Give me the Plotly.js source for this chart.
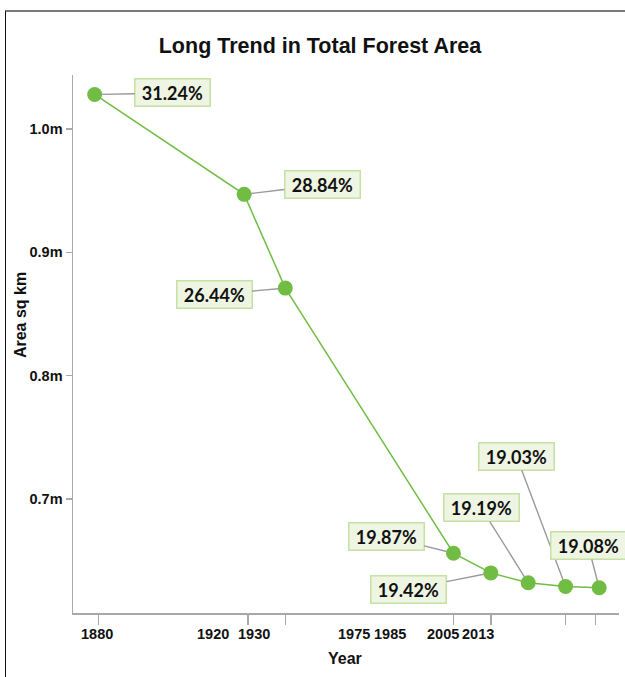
<!DOCTYPE html>
<html>
<head>
<meta charset="utf-8">
<script src="https://cdn.plot.ly/plotly-3.0.1.min.js"></script>
<style>
  html, body { margin: 0; padding: 0; background: #ffffff; }
  #chart { position: absolute; left: 0; top: 0; width: 625px; height: 677px; }
  #frame {
    position: absolute; left: 5px; top: 10px; width: 625px; height: 667px;
    border-top: 2px solid #7a7a7a; border-left: 1.5px solid #111;
    pointer-events: none; box-sizing: border-box;
  }
</style>
</head>
<body>
<div id="chart"></div>
<div id="frame"></div>
<script>
// Forest area by year (million sq km) and share of total land area (%)
const years = [1879, 1919, 1930, 1975, 1985, 1995, 2005, 2014];
const areaMillionSqKm = [1.028, 0.947, 0.871, 0.656, 0.640, 0.632, 0.629, 0.628];
const forestSharePct = [31.24, 28.84, 26.44, 19.87, 19.42, 19.19, 19.03, 19.08];

// Year axis: tick marks and the year labels printed under the axis
const tickYears = [1880, 1920, 1930, 1975, 1985, 2005, 2013];
const tickLabels = ['1880', '1920', '1930', '1975', '1985', '2005', '2013'];

// Area axis ticks
const areaTicks = [0.7, 0.8, 0.9, 1.0];
const areaTickLabels = ['0.7m', '0.8m', '0.9m', '1.0m'];

// Layout: where each year label sits along the axis, and callout offsets (px)
const yearLabelPos = [1879.5, 1910.6, 1921.6, 1948.5, 1957.9, 1972.3, 1981.6];
const calloutOffsets = [
  [78, -1.5], [78, -9.5], [-71, 6.3], [-67, -16.6],
  [-82, 16.2], [-47, -75], [-49, -130], [-11, -42]
];

const green = '#71bd44';
const axisGrey = '#a9a9a9';
const xRange = [1873.2, 2019.3];
const yRange = [0.6075, 1.0438];

const tickFont = { family: '"Liberation Sans", Arial, sans-serif', size: 14.5, color: '#111', weight: 'bold' };

const trace = {
  type: 'scatter',
  mode: 'lines+markers',
  x: years,
  y: areaMillionSqKm,
  line: { color: green, width: 1.5 },
  marker: { color: green, size: 15 },
  cliponaxis: false,
  hoverinfo: 'x+y'
};

const callouts = years.map((yr, i) => ({
  x: yr,
  y: areaMillionSqKm[i],
  xref: 'x', yref: 'y',
  text: '\u00a0' + forestSharePct[i].toFixed(2) + '%\u00a0',
  showarrow: true,
  arrowhead: 0,
  arrowwidth: 1.4,
  arrowcolor: '#9a9a9a',
  standoff: 7,
  ax: calloutOffsets[i][0],
  ay: calloutOffsets[i][1],
  bgcolor: '#eef5e2',
  bordercolor: '#c6e1a4',
  borderwidth: 1.5,
  borderpad: 2,
  font: { family: 'Lato, "Liberation Sans", sans-serif', size: 18, color: '#111', weight: 'bold' }
}));

// Year labels under the axis
const yearLabels = tickLabels.map((lab, i) => ({
  text: lab,
  x: yearLabelPos[i], xref: 'x',
  y: -(634 - 613) / 538, yref: 'paper',
  xanchor: 'center', yanchor: 'middle',
  showarrow: false,
  font: tickFont
}));

const axisTitles = [
  {
    text: '<b>Area sq km</b>', xref: 'paper', yref: 'paper',
    x: -0.095, y: 0.554, textangle: -90, showarrow: false,
    xanchor: 'center', yanchor: 'middle',
    font: { family: '"Liberation Sans", Arial, sans-serif', size: 16, color: '#111' }
  },
  {
    text: '<b>Year</b>', xref: 'paper', yref: 'paper',
    x: 0.498, y: -0.084, showarrow: false,
    xanchor: 'center', yanchor: 'middle',
    font: { family: '"Liberation Sans", Arial, sans-serif', size: 16, color: '#111' }
  }
];

const layout = {
  width: 625,
  height: 677,
  margin: { l: 73, r: 6, t: 75, b: 64 },
  paper_bgcolor: 'rgba(0,0,0,0)',
  plot_bgcolor: 'rgba(0,0,0,0)',
  showlegend: false,
  title: {
    text: 'Long Trend in Total Forest Area',
    x: 0.512, xref: 'container', xanchor: 'center',
    y: 0.9335, yref: 'container', yanchor: 'middle',
    font: { family: '"Liberation Sans", Arial, sans-serif', size: 21.5, color: '#111', weight: 'bold' }
  },
  xaxis: {
    range: xRange,
    tickmode: 'array',
    tickvals: tickYears,
    showticklabels: false,
    ticks: 'outside', ticklen: 10, tickwidth: 1.5, tickcolor: axisGrey,
    showline: true, linecolor: axisGrey, linewidth: 1.5,
    showgrid: false, zeroline: false, fixedrange: true
  },
  yaxis: {
    range: yRange,
    tickmode: 'array',
    tickvals: areaTicks,
    ticktext: areaTickLabels,
    tickfont: tickFont,
    ticks: 'outside', ticklen: 6, tickwidth: 1.5, tickcolor: axisGrey,
    showline: true, linecolor: axisGrey, linewidth: 1.5,
    showgrid: false, zeroline: false, fixedrange: true
  },
  annotations: callouts.concat(yearLabels, axisTitles)
};

Plotly.newPlot('chart', [trace], layout, { displayModeBar: false, staticPlot: true });
</script>
</body>
</html>
